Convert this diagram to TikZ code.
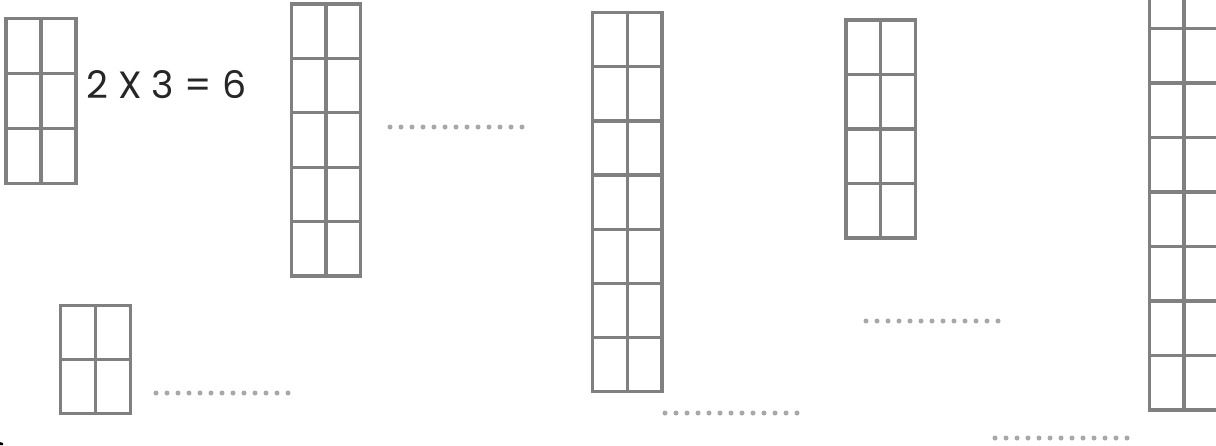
\documentclass[tikz,border=0pt]{standalone}
\usepackage{fontspec}
\setmainfont{Poppins}
\definecolor{gridc}{HTML}{808080}
\definecolor{dotc}{HTML}{A8A8A8}
\tikzset{
  gridline/.style={draw=gridc, line width=3.2pt, line cap=rect},
  dotfill/.style={fill=dotc},
  eqtext/.style={font=\fontsize{38}{42}\selectfont, anchor=base west, inner sep=0pt, text=black!85}
}
% #1 left x, #2 top y, #3 rows, #4 row height, #5 width
\newcommand{\cellgrid}[5]{%
  \draw[gridline] (#1,#2) rectangle ({#1+#5},{#2+#3*#4});
  \draw[gridline] ({#1+#5/2},#2) -- ({#1+#5/2},{#2+#3*#4});
  \foreach \k in {1,...,#3}{\draw[gridline] (#1,{#2+\k*#4}) -- ({#1+#5},{#2+\k*#4});}%
}
\newcommand{\dotrow}[2]{%
  \foreach \i in {0,...,12}{\fill[dotfill] ({#1+11*\i},#2) circle (2.5);}%
}
\begin{document}
\begin{tikzpicture}[x=1pt,y=-1pt]
\useasboundingbox (0,0) rectangle (1216,445);
\clip (0,0) rectangle (1216,445);
\fill[white] (0,0) rectangle (1216,445);
% grids
\cellgrid{6}{18.5}{3}{55}{70}
\cellgrid{291.5}{4}{5}{54.4}{69}
\cellgrid{592.5}{12.7}{7}{54.1}{69.5}
\cellgrid{846}{20}{4}{54.5}{69.5}
\cellgrid{1149.5}{-26}{8}{54.5}{69}
\cellgrid{60.5}{305.5}{2}{54}{70}
% equation
\node[eqtext] (eq) at (86,98.5) {2 X 3 = 6};
% dotted answer lines
\dotrow{390}{127}
\dotrow{156}{393}
\dotrow{665}{413}
\dotrow{866}{321}
\dotrow{995}{438}
% fragment at bottom-left corner
\fill[black] (0,442) -- (3,443) -- (3,445) -- (0,445) -- cycle;
\end{tikzpicture}
\end{document}
